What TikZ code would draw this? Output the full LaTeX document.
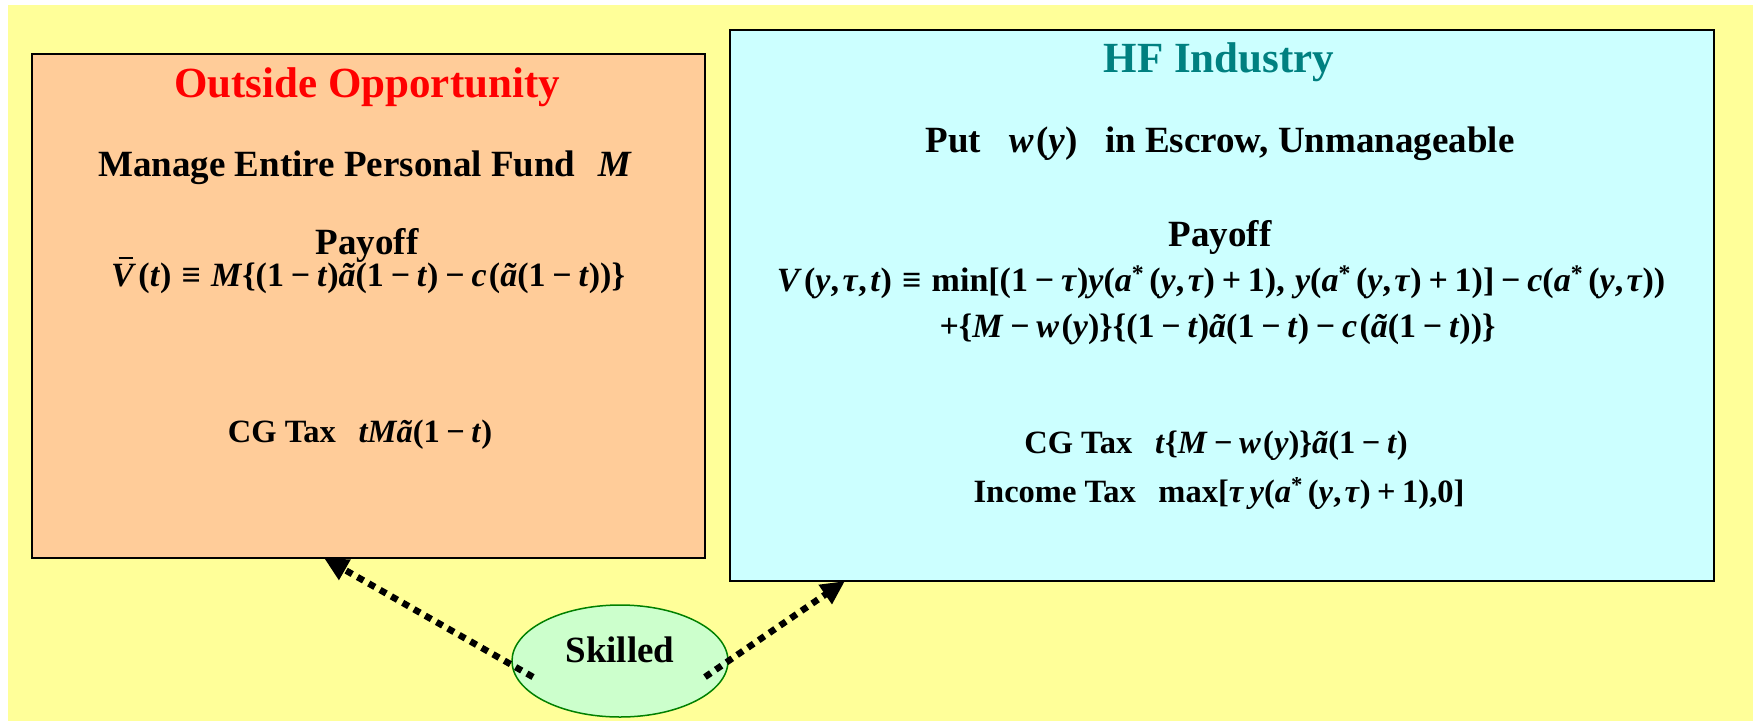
\documentclass[tikz,border=0pt]{standalone}
\usepackage{fontspec}
\setmainfont{Liberation Serif}
\usetikzlibrary{arrows.meta,shapes.geometric}
\definecolor{bgyellow}{HTML}{FFFF99}
\definecolor{boxorange}{HTML}{FFCC99}
\definecolor{boxcyan}{HTML}{CCFFFF}
\definecolor{skgreen}{HTML}{CCFFCC}
\definecolor{skborder}{HTML}{008000}
\definecolor{titleteal}{HTML}{008080}
\newcommand{\mi}[1]{\textit{#1}}
\newcommand{\mn}{\hspace{0.2em}−\hspace{0.2em}}
\newcommand{\pl}{\hspace{0.2em}+\hspace{0.2em}}
\newcommand{\eqv}{\hspace{0.3em}≡\hspace{0.3em}}
\newcommand{\st}{\textsuperscript{*}\hspace{0.15em}}
\newcommand{\cm}{,\hspace{0.1em}}
\newcommand{\lp}{\hspace{0.07em}(}
\newcommand{\vbar}{\makebox[0pt][l]{\hspace{0.22em}\raisebox{0.78em}{\rule{0.42em}{0.06em}}}}
\begin{document}
\begin{tikzpicture}[x=1pt,y=-1pt,
  panel/.style={draw=black,line width=2pt,anchor=north west,inner sep=0pt},
  ttl/.style={font=\fontsize{43}{50}\selectfont\bfseries,anchor=base},
  body/.style={font=\fontsize{37}{44}\selectfont\bfseries,anchor=base},
  frm/.style={font=\fontsize{34}{40}\selectfont\bfseries,anchor=base},
  tax/.style={font=\fontsize{32.5}{38}\selectfont\bfseries,anchor=base},
  skarrow/.style={line width=6.5pt,dash pattern=on 7pt off 6pt,-{Triangle[length=24pt,width=22pt]}}]
\useasboundingbox (0,0) rectangle (1753,721);
\fill[white] (0,0) rectangle (1753,721);
\fill[bgyellow] (8,5) rectangle (1753,721);
% panels
\node[panel,fill=boxorange,minimum width=673pt,minimum height=504pt] (lbox) at (31,53) {};
\node[panel,fill=boxcyan,minimum width=984pt,minimum height=551pt] (rbox) at (729,29) {};
% left texts
\node[ttl,text=red] (ltitle) at (367,97) {Outside Opportunity};
\node[body] (lmanage) at (365,176) {Manage Entire Personal Fund\hspace{0.6em}\mi{M}};
\node[body] (lpay) at (367,254) {Payoff};
\node[frm] (lform) at (368,286) {\vbar\mi{V}\lp\mi{t})\eqv\mi{M}\{(1\mn\mi{t})\mi{ã}(1\mn\mi{t})\mn\mi{c}\lp\mi{ã}(1\mn\mi{t}))\}};
\node[tax] (lcg) at (360,442) {CG Tax\hspace{0.7em}\mi{tMã}(1\mn\mi{t})};
% right texts
\node[ttl,text=titleteal] (rtitle) at (1219,72) {HF Industry};
\node[body] (rput) at (1220,152) {Put\hspace{0.75em}\mi{w}\lp\mi{y})\hspace{0.75em}in Escrow, Unmanageable};
\node[body] (rpay) at (1220,246) {Payoff};
\node[frm] (rform1) at (1221,291) {\mi{V}\lp\mi{y}\cm\mi{τ}\cm\mi{t})\eqv min[(1\mn\mi{τ})\mi{y}(\mi{a}\st(\mi{y}\cm\mi{τ})\pl1),\hspace{0.3em}\mi{y}(\mi{a}\st(\mi{y}\cm\mi{τ})\pl1)]\mn\mi{c}(\mi{a}\st(\mi{y}\cm\mi{τ}))};
\node[frm,anchor=base west] (rform2) at (936,337) {+\{\mi{M}\mn\mi{w}\lp\mi{y})\}\{(1\mn\mi{t})\mi{ã}(1\mn\mi{t})\mn\mi{c}\lp\mi{ã}(1\mn\mi{t}))\}};
\node[tax] (rcg) at (1216,453) {CG Tax\hspace{0.7em}\mi{t}\{\mi{M}\mn\mi{w}\lp\mi{y})\}\mi{ã}(1\mn\mi{t})};
\node[tax] (rinc) at (1219,502) {Income Tax\hspace{0.7em}max[\mi{τ}\,\mi{y}(\mi{a}\st(\mi{y}\cm\mi{τ})\pl1),0]};
% skilled ellipse
\node[ellipse,draw=skborder,line width=1.5pt,fill=skgreen,minimum width=216pt,minimum height=112pt,inner sep=0pt,
  font=\fontsize{37}{44}\selectfont\bfseries,text height=25pt,text depth=23pt] (sk) at (620,661) {Skilled};
% connectors
\coordinate (skl) at (533,677);
\coordinate (skr) at (705,677);
\coordinate (lhead) at (324,558);
\coordinate (rhead) at (845,581);
\draw[skarrow] (skl) -- (lhead);
\draw[skarrow] (skr) -- (rhead);
\end{tikzpicture}
\end{document}
